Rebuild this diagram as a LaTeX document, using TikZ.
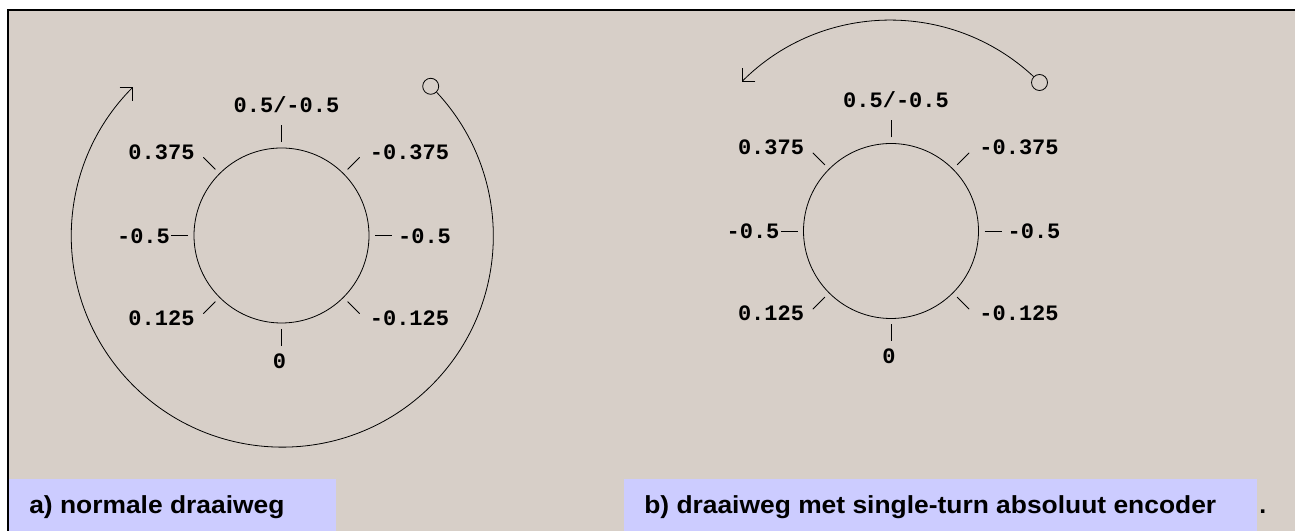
\documentclass[tikz,border=0pt]{standalone}
\usepackage{graphicx}
\usepackage{fontspec}
\setmainfont{Liberation Sans}
\setmonofont{Liberation Mono}
\usetikzlibrary{arrows.meta, calc}
\definecolor{panelbg}{RGB}{215,207,200}
\definecolor{capbg}{RGB}{204,204,255}

\begin{document}
\begin{tikzpicture}[x=0.75pt, y=0.75pt,
        dial/.style={draw, line width=0.6pt},
        tickmark/.style={line width=0.6pt},
        turn/.style={line width=0.6pt, -{Straight Barb[length=7pt, width=14pt]}},
        knob/.style={circle, draw, line width=0.6pt, minimum size=12pt, inner sep=0pt},
        val/.style={font=\ttfamily\bfseries\fontsize{16.5}{18}\selectfont, inner sep=0pt, anchor=base},
        caption/.style={font=\bfseries\fontsize{18.5}{20}\selectfont, inner sep=0pt, anchor=base west}
    ]
        \useasboundingbox (0,0) rectangle (1295,531);

        % Panel with top and left rule
        \fill[panelbg] (8,0) rectangle (1295,521);
        \draw[line width=1.9pt] (8,0) -- (8,521) -- (1295,521);

        % Dial centres
        \coordinate (ca) at (281.5,295.5);
        \coordinate (cb) at (891,300);

        % Dials with ticks and values
        \foreach \c in {a,b} {
            \draw[dial] (c\c) circle[radius=87.5];
            \foreach \ang in {0,45,...,315}
                \draw[tickmark] ($(c\c)+(\ang:93.5)$) -- ($(c\c)+(\ang:110.5)$);
            \foreach \dx/\dy/\txt [count=\i] in {5/130/{0.5/-0.5}, -120/83/0.375, 128/83/-0.375,
                    -138/-1/-0.5, 143/-1/-0.5, -120/-83/0.125, 128/-83/-0.125, -2/-126/0}
                \node[val] (v\c\i) at ($(c\c)+(\dx,\dy-7)$) {\txt};
        }

        % a) full turn, clockwise
        \node[knob] (ka) at ($(ca)+(45:211)$) {};
        \draw[turn] (ka.-45) arc[start angle=43, end angle=-225, radius=211];

        % b) short way round, counter-clockwise
        \node[knob] (kb) at ($(cb)+(45:210)$) {};
        \draw[turn] (kb.135) arc[start angle=47, end angle=135, radius=210];

        % Captions
        \fill[capbg] (9,0) rectangle (336,52);
        \fill[capbg] (624,0) rectangle (1257,52);
        \node[caption] (capa) at (29,17) {\scalebox{1.07}[1]{a) normale draaiweg}};
        \node[caption] (capb) at (644,17) {\scalebox{1.07}[1]{b) draaiweg met single-turn absoluut encoder}};
        \node[caption] (capdot) at (1259,17) {.};

    \end{tikzpicture}
\end{document}
